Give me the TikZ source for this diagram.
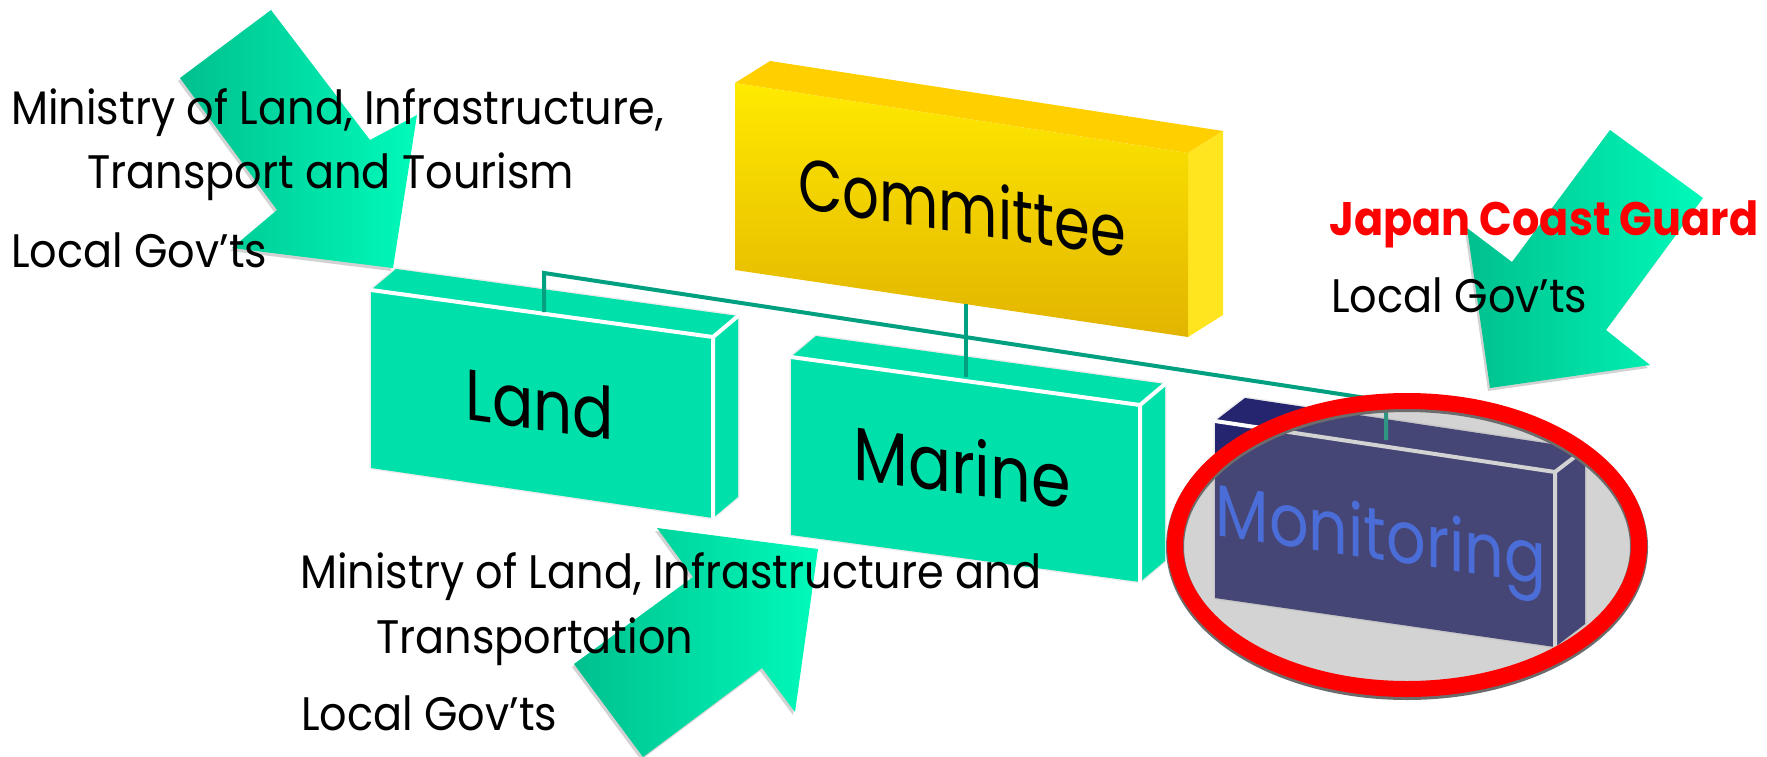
\documentclass[tikz,border=0pt]{standalone}
\usepackage{fontspec}
\setmainfont{Poppins}
\newfontfamily\lblfont[FakeStretch=0.915]{Poppins}
\newfontfamily\boxfont[FakeStretch=0.85]{Poppins}
\newfontfamily\comfont[FakeStretch=0.80]{Poppins}
\definecolor{boxgreen}{RGB}{0,224,170}
\definecolor{arrowdark}{RGB}{0,192,142}
\definecolor{arrowlight}{RGB}{0,250,186}
\definecolor{lineteal}{RGB}{0,160,128}
\definecolor{navy}{RGB}{37,37,111}
\definecolor{overlaygray}{RGB}{132,132,132}
\definecolor{montext}{RGB}{74,109,216}
\definecolor{comtop}{RGB}{255,207,0}
\definecolor{comfronttop}{RGB}{255,234,0}
\definecolor{comfrontbot}{RGB}{226,180,0}
\definecolor{comside}{RGB}{255,229,32}
\tikzset{
  lbl/.style={anchor=base west, inner sep=0pt, font=\lblfont\fontsize{47}{52}\selectfont},
  boxtxt/.style={anchor=base, inner sep=0pt, font=\boxfont\fontsize{74}{80}\selectfont},
  arrowfill/.style={left color=arrowdark, right color=arrowlight},
  arrowshadow/.style={fill=gray!70, opacity=0.5, xshift=-2pt, yshift=-3pt},
  greenface/.style={fill=boxgreen},
  navyface/.style={fill=navy},
  edgeline/.style={white, line width=4pt, line cap=round},
  boxhalo/.style={draw=gray!15, line width=3pt, line join=round},
  conn/.style={lineteal, line width=4pt},
}
\begin{document}
\begin{tikzpicture}[x=1pt,y=-1pt]
\useasboundingbox (0,0) rectangle (1767,757);

% ---------- arrows ----------
\fill[arrowshadow] (271,10) -- (370,140) -- (417,115) -- (393,268) -- (232,248) -- (277,210) -- (180,78) -- cycle;
\path[arrowfill] (271,10) -- (370,140) -- (417,115) -- (393,268) -- (232,248) -- (277,210) -- (180,78) -- cycle;

\fill[arrowshadow] (1610,130) -- (1703,198) -- (1606,330) -- (1650,365) -- (1490,388) -- (1467,228) -- (1512,262) -- cycle;
\path[arrowfill] (1610,130) -- (1703,198) -- (1606,330) -- (1650,365) -- (1490,388) -- (1467,228) -- (1512,262) -- cycle;

\fill[arrowshadow] (818,549) -- (795,712) -- (762,668) -- (643,757) -- (574,664) -- (693,577) -- (657,528) -- cycle;
\path[arrowfill] (818,549) -- (795,712) -- (762,668) -- (643,757) -- (574,664) -- (693,577) -- (657,528) -- cycle;

% ---------- Committee box ----------
\coordinate (cTL) at (735,83);  \coordinate (cTR) at (1188,153);
\coordinate (cBR) at (1188,337); \coordinate (cBL) at (735,270);
\fill[comtop] (cTL) -- (cTR) -- ++(35,-22) -- (770,61) -- cycle;
\fill[comside] (cTR) -- ++(35,-22) -- (1223,315) -- (cBR) -- cycle;
\path[top color=comfronttop, bottom color=comfrontbot] (cTL) -- (cTR) -- (cBR) -- (cBL) -- cycle;
\node[boxtxt, font=\comfont\fontsize{72}{80}\selectfont, yslant=-0.15] (com) at (962,233) {Committee};

% ---------- Land box ----------
\coordinate (lTL) at (371,290); \coordinate (lTR) at (713,337);
\coordinate (lBR) at (713,518); \coordinate (lBL) at (371,468);
\draw[boxhalo] (lTL) -- (396,269) -- (738,316) -- (738,497) -- (lBR) -- (lBL) -- cycle;
\fill[greenface] (lTL) -- (396,269) -- (738,316) -- (lTR) -- cycle;
\fill[greenface] (lTR) -- (738,316) -- (738,497) -- (lBR) -- cycle;
\fill[greenface] (lTL) -- (lTR) -- (lBR) -- (lBL) -- cycle;
\draw[edgeline] (lTL) -- (lTR) -- (lBR);
\draw[edgeline] (lTR) -- (738,316);
\node[boxtxt, font=\boxfont\fontsize{72}{80}\selectfont, yslant=-0.137] (land) at (540,430) {Land};

% ---------- Marine box ----------
\coordinate (mTL) at (791,357); \coordinate (mTR) at (1140,405);
\coordinate (mBR) at (1140,582); \coordinate (mBL) at (791,535);
\draw[boxhalo] (mTL) -- (816,336) -- (1165,384) -- (1165,561) -- (mBR) -- (mBL) -- cycle;
\fill[greenface] (mTL) -- (816,336) -- (1165,384) -- (mTR) -- cycle;
\fill[greenface] (mTR) -- (1165,384) -- (1165,561) -- (mBR) -- cycle;
\fill[greenface] (mTL) -- (mTR) -- (mBR) -- (mBL) -- cycle;
\draw[edgeline] (mTL) -- (mTR) -- (mBR);
\draw[edgeline] (mTR) -- (1165,384);
\node[boxtxt, font=\boxfont\fontsize{75}{80}\selectfont, yslant=-0.1375] (marine) at (962,494) {Marine};

% ---------- Monitoring box ----------
\coordinate (oTL) at (1215,421); \coordinate (oTR) at (1555,472);
\coordinate (oBR) at (1555,647); \coordinate (oBL) at (1215,598);
\draw[boxhalo] (oTL) -- (1245,398) -- (1585,449) -- (1585,624) -- (oBR) -- (oBL) -- cycle;
\fill[navyface] (oTL) -- (1245,398) -- (1585,449) -- (oTR) -- cycle;
\fill[navyface] (oTR) -- (1585,449) -- (1585,624) -- (oBR) -- cycle;
\fill[navyface] (oTL) -- (oTR) -- (oBR) -- (oBL) -- cycle;
\draw[edgeline] (oTL) -- (oTR) -- (oBR);
\draw[edgeline] (oTR) -- (1585,449);

% ---------- connectors ----------
\coordinate (cbot) at (966,304);
\coordinate (mtop) at (966,377);
\coordinate (ltop) at (544,312);
\coordinate (lelb) at (544,273);
\coordinate (oelb) at (1386,401);
\coordinate (otop) at (1386,440);
\draw[conn] (cbot) -- (mtop);
\draw[conn, line join=miter] (ltop) -- (lelb) -- (oelb) -- (otop);

% ---------- magnifier ellipse ----------
\fill[overlaygray, fill opacity=0.357] (1407,545) ellipse [x radius=232, y radius=144];
\node[boxtxt, font=\boxfont\fontsize{73}{80}\selectfont, text=montext, yslant=-0.15] (mon) at (1381,560) {Monitoring};
\draw[gray!85!black, line width=18pt, yshift=-2pt] (1407,545) ellipse [x radius=232, y radius=144];
\draw[red, line width=16pt] (1407,545) ellipse [x radius=232, y radius=144];

% ---------- labels ----------
\node[lbl] (m1) at (11,125) {Ministry of Land, Infrastructure,};
\node[lbl] (m2) at (87,189) {Transport and Tourism};
\node[lbl] (g1) at (11,267) {Local Gov’ts};
\node[lbl, text=red, font=\lblfont\bfseries\fontsize{47}{52}\selectfont] (jcg) at (1329,235) {Japan Coast Guard};
\node[lbl] (g2) at (1331,312) {Local Gov’ts};
\node[lbl] (b1) at (300,588) {Ministry of Land, Infrastructure and};
\node[lbl] (b2) at (376,653) {Transportation};
\node[lbl] (g3) at (301,730) {Local Gov’ts};
\end{tikzpicture}
\end{document}
